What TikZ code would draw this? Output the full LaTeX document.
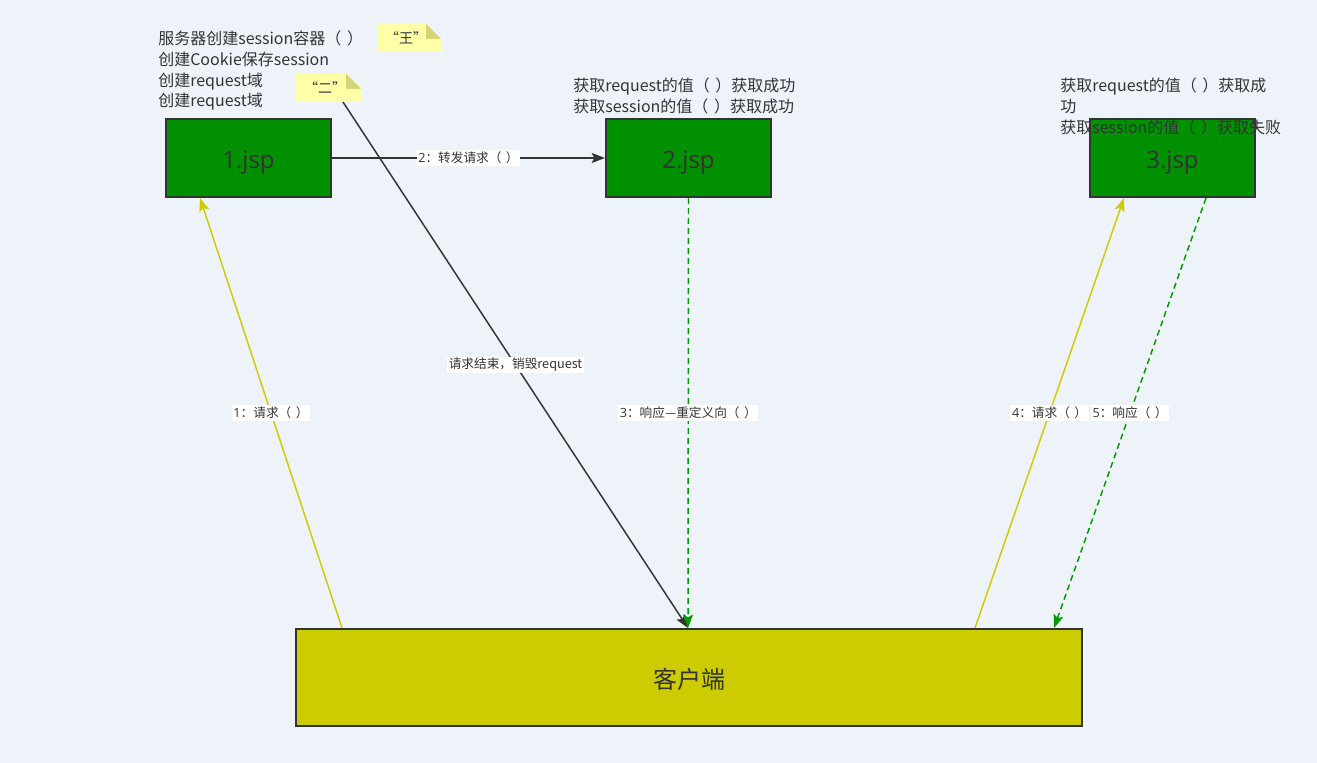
\documentclass[tikz,border=0pt]{standalone}
\usepackage{fontspec}
\setmainfont{Open Sans}
\newfontfamily\cjk{Noto Sans CJK SC}
\usetikzlibrary{arrows.meta,calc}
\definecolor{bgc}{HTML}{EEF3FA}
\definecolor{boxgreen}{HTML}{009000}
\definecolor{clientyel}{HTML}{CCCC00}
\definecolor{dashgreen}{HTML}{009900}
\definecolor{ink}{HTML}{333333}
\definecolor{notefill}{HTML}{FFFFA8}
\definecolor{notefold}{HTML}{D4D478}
% empty fullwidth parentheses with a gap between them
\newcommand{\kuohao}{（\hspace{0.35em}）}
% box caption with its baseline set below the box centre
\newcommand{\boxcap}[2]{\smash{\raisebox{#1}{#2}}}
\begin{document}
\begin{tikzpicture}[x=0.75pt,y=-0.75pt,
  jsp/.style={draw=ink,line width=1.5pt,fill=boxgreen,minimum width=123.75pt,
    minimum height=58.5pt,inner sep=0pt,text=ink,font=\fontsize{18}{20}\selectfont},
  client/.style={draw=ink,line width=1.5pt,fill=clientyel,minimum width=589.5pt,
    minimum height=72.75pt,inner sep=0pt,text=ink,font=\fontsize{18}{20}\cjk},
  memo/.style={text=ink,align=left,inner sep=0pt,anchor=north west,
    font=\fontsize{12}{15.5}\selectfont},
  lbl/.style={fill=white,text=ink,inner sep=1.2pt,font=\fontsize{9.5}{11}\selectfont},
  tipa/.style={-{Stealth[length=10pt,width=7.5pt,inset=2pt]}},
  reqline/.style={tipa,draw=clientyel,line width=1.1pt},
  fwdline/.style={tipa,draw=ink,line width=1.1pt},
  respline/.style={tipa,draw=dashgreen,line width=1.1pt,dash pattern=on 4.5pt off 3pt}]

% canvas
\fill[bgc] (0,0) rectangle (1317,763);
\useasboundingbox (0,0) rectangle (1317,763);

% page boxes and client
\node[jsp] (j1) at (248.5,158) {\boxcap{-8pt}{1.jsp}};
\node[jsp] (j2) at (688.5,158) {\boxcap{-8pt}{2.jsp}};
\node[jsp] (j3) at (1172.5,158) {\boxcap{-8pt}{3.jsp}};
\node[client] (cl) at (689,677.5) {\boxcap{-8pt}{客户端}};

% sticky notes
\fill[notefill] (378,24) -- (426,24) -- (441,39) -- (441,52) -- (378,52) -- cycle;
\fill[notefold] (426,24) -- (441,39) -- (426,39) -- cycle;
\node[text=ink,font=\fontsize{10.5}{12}\cjk] (nwang) at (406,38) {“王”};
\fill[notefill] (296,74) -- (346,74) -- (361,89) -- (361,102) -- (296,102) -- cycle;
\fill[notefold] (346,74) -- (361,89) -- (346,89) -- cycle;
\node[text=ink,font=\fontsize{10.5}{12}\cjk] (ner) at (325,88) {“二”};
\coordinate (nertail) at (343,102);

% connectors
\draw[reqline] ($(cl.north west)+(47,0)$) -- node[lbl]{1\cjk{：请求\kuohao}} ($(j1.south west)+(35,0)$);
\draw[fwdline] (j1.east) -- node[lbl]{2\cjk{：转发请求\kuohao}} (j2.west);
\draw[fwdline] (nertail) -- node[lbl]{\cjk{请求结束，销毁}request} ($(cl.north west)+(393,0)$);
\draw[respline] (j2.south) -- node[lbl]{3\cjk{：响应—重定义向\kuohao}} ($(cl.north west)+(393,0)$);
\draw[reqline] ($(cl.north west)+(680,0)$) -- node[lbl]{4\cjk{：请求\kuohao}} ($(j3.south west)+(35,0)$);
\draw[respline] ($(j3.south west)+(117,0)$) -- node[lbl]{5\cjk{：响应\kuohao}} ($(cl.north west)+(759,0)$);

% annotations
\node[memo] (m1) at (158,31) {\cjk{服务器创建}session\cjk{容器\kuohao}\\
  \cjk{创建}Cookie\cjk{保存}session\\
  \cjk{创建}request\cjk{域}\\
  \cjk{创建}request\cjk{域}};
\node[memo] (m2) at (573,78) {\cjk{获取}request\cjk{的值\kuohao 获取成功}\\
  \cjk{获取}session\cjk{的值\kuohao 获取成功}};
\node[memo] (m3) at (1060,78) {\cjk{获取}request\cjk{的值\kuohao 获取成}\\
  \cjk{功}\\
  \cjk{获取}session\cjk{的值\kuohao 获取失败}};
\end{tikzpicture}
\end{document}
